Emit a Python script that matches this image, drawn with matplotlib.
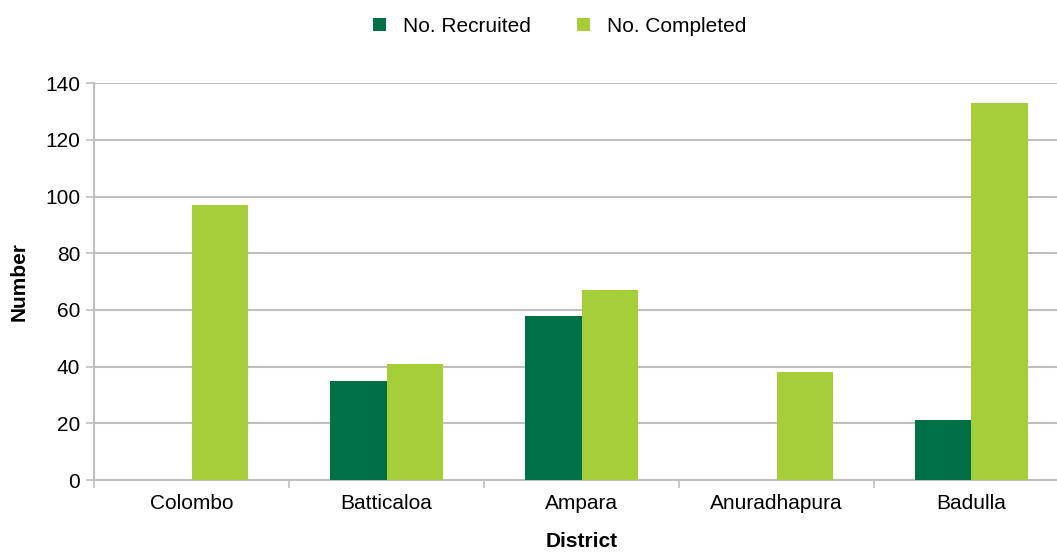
import numpy as np
import matplotlib
matplotlib.use('Agg')
import matplotlib.pyplot as plt

districts = ['Colombo', 'Batticaloa', 'Ampara', 'Anuradhapura', 'Badulla']
recruited = [0, 35, 58, 0, 21]
completed = [97, 41, 67, 38, 133]
yticks = [0, 20, 40, 60, 80, 100, 120, 140]

dark = '#007146'
light = '#A6CE39'
grid_col = '#BFBFBF'

plt.rcParams['font.family'] = ['Liberation Sans', 'DejaVu Sans']

fig = plt.figure(figsize=(10.57, 5.52), dpi=100)
ax = fig.add_axes([94 / 1057, 1 - 480 / 552, (1069 - 94) / 1057, (480 - 83.3) / 552])

x = np.arange(len(districts))
w = 0.29
ax.bar(x - w / 2, recruited, w, color=dark, label='No. Recruited', zorder=3)
ax.bar(x + w / 2, completed, w, color=light, label='No. Completed', zorder=3)

ax.set_ylim(0, 140)
ax.set_xlim(-0.5, len(districts) - 0.5)
ax.set_yticks(yticks)
ax.yaxis.grid(True, color=grid_col, linewidth=1.5, zorder=0)
ax.set_axisbelow(True)

# category boundaries as ticks, labels in the middle
ax.set_xticks(np.arange(len(districts) + 1) - 0.5)
ax.set_xticklabels([])
ax.set_xticks(x, minor=True)
ax.set_xticklabels(districts, minor=True, fontsize=15)
ax.tick_params(axis='x', which='minor', length=0, pad=10)
ax.tick_params(axis='x', which='major', length=6, color=grid_col, width=1.2)
ax.tick_params(axis='y', length=6, color=grid_col, width=1.2, labelsize=15, pad=4)

for s in ['top', 'right']:
    ax.spines[s].set_visible(False)
for s in ['left', 'bottom']:
    ax.spines[s].set_color(grid_col)
    ax.spines[s].set_linewidth(1.5)

ax.set_ylabel('Number', fontsize=15, fontweight='bold', labelpad=12)
ax.set_xlabel('District', fontsize=15, fontweight='bold', labelpad=14)

fig.legend(loc='center', bbox_to_anchor=(560 / 1057, 1 - 26 / 552), ncol=2, frameon=False,
           fontsize=15, handlelength=0.6, handleheight=0.6, columnspacing=2.2, handletextpad=0.85)

fig.savefig('out.png', dpi=100)
